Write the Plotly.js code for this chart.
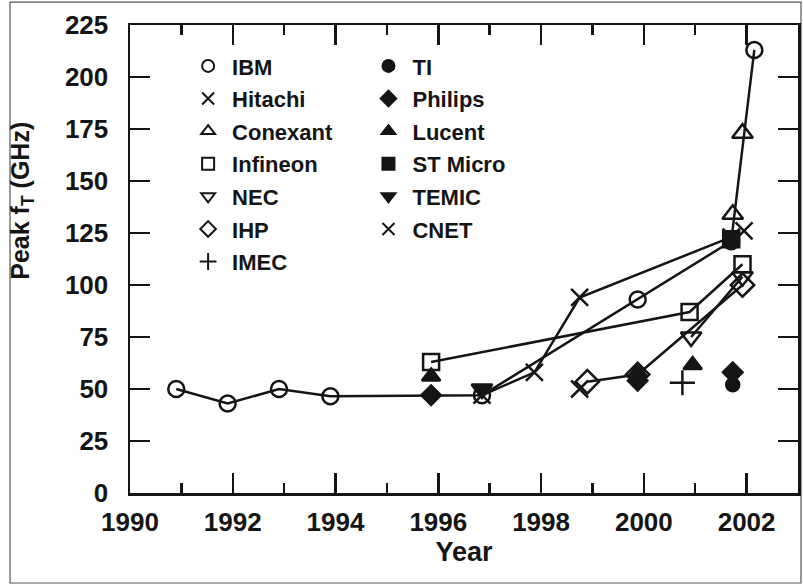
<!DOCTYPE html>
<html>
<head>
<meta charset="utf-8">
<script src="https://cdn.plot.ly/plotly-3.0.1.min.js"></script>
<style>html,body{margin:0;padding:0;background:#fff;}#chart{width:803px;height:585px;}</style>
</head>
<body>
<div id="chart"></div>
<script>
// ---- data (year, peak fT in GHz) ----
const ibmYear = [1990.9, 1991.9, 1992.9, 1993.9, 1996.85, 1999.88, 2001.7, 2002.15];
const ibmFt   = [50, 43, 50, 46.5, 47, 93, 121, 213];
const hitachiYear = [1996.85, 1997.87, 1998.75, 2001.7];
const hitachiFt   = [47, 58, 94, 123];
const conexantYear = [2001.73, 2001.92];
const conexantFt   = [134, 173];
const infineonYear = [1995.86, 2000.89, 2001.92];
const infineonFt   = [63, 87, 110];
const necYear = [2000.92, 2001.92];
const necFt   = [75, 104];
const ihpYear = [1998.9, 1999.88, 2001.92];
const ihpFt   = [53.5, 57, 100];
const imecYear = [2000.75];
const imecFt   = [53];
const tiYear = [2001.73];
const tiFt   = [52];
const philipsYear = [1995.86, 1999.88, 2001.73];
const philipsFt   = [47, 54, 58];
const lucentYear = [1995.86, 1999.88, 2000.95];
const lucentFt   = [56, 58, 61.5];
const stYear = [2001.7];
const stFt   = [122];
const temicYear = [1996.85];
const temicFt   = [50];
const cnetYear = [1998.75, 2001.95];
const cnetFt   = [50, 126];

const xTickStart = 1990, xTickStep = 2;
const yTickStep = 25;

const INK = '#151515';
const LW = 2.5;

function line(x, y) {
  return {x: x, y: y, mode: 'lines', line: {color: INK, width: LW}, showlegend: false, hoverinfo: 'skip'};
}
function pts(name, x, y, symbol, size, legend) {
  return {x: x, y: y, name: name, mode: 'markers', legend: legend, legendgroup: name,
    marker: {symbol: symbol, size: size, color: INK, line: {color: INK, width: LW}}};
}

const traces = [
  line(ibmYear, ibmFt),
  line(hitachiYear, hitachiFt),
  line(infineonYear, infineonFt),
  line(necYear, necFt),
  line(ihpYear, ihpFt),
  pts('IBM', ibmYear, ibmFt, 'circle-open', 16, 'legend'),
  pts('Hitachi', hitachiYear, hitachiFt, 'x-thin-open', 17, 'legend'),
  pts('Conexant', conexantYear, conexantFt, 'triangle-up-open', 18, 'legend'),
  pts('Infineon', infineonYear, infineonFt, 'square-open', 16, 'legend'),
  pts('NEC', necYear, necFt, 'triangle-down-open', 18, 'legend'),
  pts('IHP', ihpYear, ihpFt, 'diamond-open', 18, 'legend'),
  pts('IMEC', imecYear, imecFt, 'cross-thin-open', 18, 'legend'),
  pts('TI', tiYear, tiFt, 'circle', 13, 'legend2'),
  pts('Philips', philipsYear, philipsFt, 'diamond', 15, 'legend2'),
  pts('Lucent', lucentYear, lucentFt, 'triangle-up', 16, 'legend2'),
  pts('ST Micro', stYear, stFt, 'square', 16, 'legend2'),
  pts('TEMIC', temicYear, temicFt, 'triangle-down', 18, 'legend2'),
  pts('CNET', cnetYear, cnetFt, 'x-thin-open', 17, 'legend2')
];

const FONT = 'Liberation Sans, Arial, Helvetica, sans-serif';
const legendCommon = {
  bgcolor: 'rgba(0,0,0,0)', borderwidth: 0,
  font: {family: FONT, size: 22, color: INK, weight: 'bold'},
  itemsizing: 'constant', itemwidth: 38, tracegroupgap: 1, traceorder: 'grouped',
  xanchor: 'left', yanchor: 'top'
};

const axisCommon = {
  showline: true, linewidth: LW, linecolor: INK, mirror: 'ticks',
  ticks: 'inside', ticklen: 20, tickwidth: LW, tickcolor: INK,
  showgrid: false, zeroline: false,
  tickfont: {family: FONT, size: 26, color: INK, weight: 'bold'}
};

const layout = {
  width: 803, height: 585,
  margin: {l: 130, r: 5, t: 25, b: 92},
  paper_bgcolor: '#ffffff', plot_bgcolor: '#ffffff',
  font: {family: FONT, color: INK, weight: 'bold'},
  showlegend: true,
  xaxis: Object.assign({}, axisCommon, {
    range: [1990, 2003], tick0: xTickStart, dtick: xTickStep,
    ticklabelstandoff: 4,
    minor: {dtick: 1, ticks: 'inside', ticklen: 10, tickwidth: LW, tickcolor: INK, showgrid: false},
    title: {text: 'Year', font: {family: FONT, size: 27, color: INK, weight: 'bold'}, standoff: 6}
  }),
  yaxis: Object.assign({}, axisCommon, {
    range: [0, 225], tick0: 0, dtick: yTickStep, ticklabelstandoff: 14
  }),
  legend: Object.assign({}, legendCommon, {x: 0.081, y: 0.957}),
  legend2: Object.assign({}, legendCommon, {x: 0.351, y: 0.957}),
  annotations: [{
    text: 'Peak f<sub>T</sub> (GHz)', textangle: -90, showarrow: false,
    xref: 'paper', yref: 'paper', x: -0.162, y: 0.624, xanchor: 'center', yanchor: 'middle',
    font: {family: FONT, size: 25, color: INK, weight: 'bold'}
  }],
  shapes: [{
    type: 'rect', xref: 'paper', yref: 'paper', layer: 'below',
    x0: -0.1796, x1: 1.0045, y0: -0.1923, y1: 1.049,
    line: {color: '#555', width: 1.2}
  }]
};

Plotly.newPlot('chart', traces, layout, {displayModeBar: false, staticPlot: true});
</script>
</body>
</html>
